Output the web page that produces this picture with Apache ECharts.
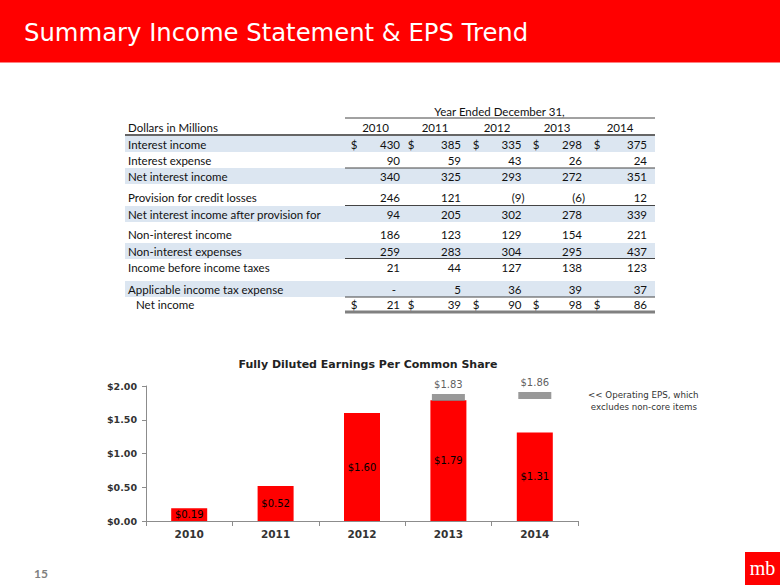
<!DOCTYPE html>
<html><head><meta charset="utf-8">
<script src="https://cdn.jsdelivr.net/npm/echarts@6/dist/echarts.min.js"></script>
<style>html,body{margin:0;padding:0;background:#fff}#c{width:780px;height:585px}</style>
</head><body><div id="c"></div>
<script>
// ---- chart data ----
const years = ['2010', '2011', '2012', '2013', '2014'];
const epsDiluted = [0.19, 0.52, 1.60, 1.79, 1.31];
const epsOperating = [null, null, null, 1.83, 1.86];
const yMin = 0, yMax = 2, yStep = 0.5;

// ---- table data (Dollars in Millions) ----
const rowLabels = ['Interest income', 'Interest expense', 'Net interest income', 'Provision for credit losses',
  'Net interest income after provision for', 'Non-interest income', 'Non-interest expenses',
  'Income before income taxes', 'Applicable income tax expense', 'Net income'];
const interestIncome = [430, 385, 335, 298, 375];
const interestExpense = [90, 59, 43, 26, 24];
const netInterestIncome = [340, 325, 293, 272, 351];
const provisionCredit = [246, 121, -9, -6, 12];
const netAfterProvision = [94, 205, 302, 278, 339];
const nonInterestIncome = [186, 123, 129, 154, 221];
const nonInterestExpenses = [259, 283, 304, 295, 437];
const incomeBeforeTaxes = [21, 44, 127, 138, 123];
const incomeTaxExpense = [0, 5, 36, 39, 37];
const netIncome = [21, 39, 90, 98, 86];
const dollarRows = [0, 9];

const tableValues = [interestIncome, interestExpense, netInterestIncome, provisionCredit, netAfterProvision,
  nonInterestIncome, nonInterestExpenses, incomeBeforeTaxes, incomeTaxExpense, netIncome];

// ---- layout ----
const TF = 'Lato, "Open Sans", sans-serif';
const TFS = 11.5;
const tblLeft = 125, tblRight = 655, numLeft = 345;
const dollarX = [354, 411, 476, 536, 597];
const rightX = [400, 461, 521.5, 582, 647];
const yearX = [375.5, 435, 497, 557, 620];
const rowY = [144, 160.5, 176, 197.5, 214, 234.5, 251, 267, 289, 304.5];
const txtColor = '#111';

const g = [];
// title bar
g.push({type: 'rect', shape: {x: 0, y: 0, width: 780, height: 62}, style: {fill: '#ff0000'}, z: 1});
g.push({type: 'rect', shape: {x: 0, y: 62, width: 780, height: 1}, style: {fill: '#ff8080'}, z: 1});
g.push({type: 'text', x: 24, y: 32, style: {text: 'Summary Income Statement & EPS Trend', fill: '#fff',
  font: '24.3px "DejaVu Sans"', verticalAlign: 'middle'}, z: 2});

// table bands
rowY.forEach((y, i) => {
  if (i % 2 === 0) g.push({type: 'rect', shape: {x: tblLeft, y: y - 8, width: tblRight - tblLeft, height: 16},
    style: {fill: '#dce6f1'}, z: 1});
});
// table lines
const lines = [
  [numLeft, tblRight, 118, 1, '#444'],
  [tblLeft, tblRight, 135, 2, '#666'],
  [numLeft, tblRight, 168, 1, '#444'],
  [numLeft, tblRight, 205.5, 1, '#444'],
  [numLeft, tblRight, 258.5, 1, '#444'],
  [numLeft, tblRight, 297, 1, '#444'],
  [numLeft, tblRight, 312, 3, '#808080']
];
lines.forEach(l => g.push({type: 'line', shape: {x1: l[0], y1: l[2], x2: l[1], y2: l[2]},
  style: {stroke: l[4], lineWidth: l[3]}, z: 3}));

// headers
g.push({type: 'text', x: 499.5, y: 111, style: {text: 'Year Ended December 31,', fill: txtColor,
  font: TFS + 'px ' + TF, align: 'center', verticalAlign: 'middle'}, z: 4});
g.push({type: 'text', x: 128, y: 127, style: {text: 'Dollars in Millions', fill: txtColor,
  font: TFS + 'px ' + TF, verticalAlign: 'middle'}, z: 4});
years.forEach((yr, j) => g.push({type: 'text', x: yearX[j], y: 127, style: {text: yr, fill: txtColor,
  font: TFS + 'px ' + TF, align: 'center', verticalAlign: 'middle'}, z: 4}));

function fmt(v) {
  if (v === 0) return '-';
  if (v < 0) return '(' + (-v) + ')';
  return String(v);
}
rowLabels.forEach((lab, i) => {
  g.push({type: 'text', x: i === 9 ? 136 : 128, y: rowY[i], style: {text: lab, fill: txtColor,
    font: TFS + 'px ' + TF, verticalAlign: 'middle'}, z: 4});
  tableValues[i].forEach((v, j) => {
    const off = v < 0 ? 3 : (v === 0 ? -4 : 0);
    g.push({type: 'text', x: rightX[j] + off, y: rowY[i], style: {text: fmt(v), fill: txtColor,
      font: TFS + 'px ' + TF, align: 'right', verticalAlign: 'middle'}, z: 4});
    if (dollarRows.includes(i)) g.push({type: 'text', x: dollarX[j], y: rowY[i], style: {text: '$', fill: txtColor,
      font: TFS + 'px ' + TF, align: 'center', verticalAlign: 'middle'}, z: 4});
  });
});

// chart title & note
g.push({type: 'text', x: 368, y: 364, style: {text: 'Fully Diluted Earnings Per Common Share', fill: '#222',
  font: 'bold 11px "DejaVu Sans"', align: 'center', verticalAlign: 'middle'}, z: 4});
g.push({type: 'text', x: 588, y: 389, style: {text: '<< Operating EPS, which\n excludes non-core items', fill: '#333',
  font: '8.7px "DejaVu Sans"', lineHeight: 12, verticalAlign: 'top'}, z: 4});

// footer
g.push({type: 'text', x: 34, y: 573, style: {text: '15', fill: '#7f7f7f', font: 'bold 12px ' + TF, verticalAlign: 'middle'}, z: 4});
g.push({type: 'rect', shape: {x: 745, y: 552, width: 35, height: 33}, style: {fill: '#ff0000'}, z: 3});
g.push({type: 'text', x: 762.5, y: 568, style: {text: 'mb', fill: '#fff', font: '20px "Liberation Serif"',
  align: 'center', verticalAlign: 'middle'}, z: 4});

const money = v => '$' + Number(v).toFixed(2);
const opData = epsOperating.map((v, i) => v == null ? null : [i, v]).filter(d => d);

const chart = echarts.init(document.getElementById('c'), null, {renderer: 'svg'});
chart.setOption({
  animation: false,
  backgroundColor: '#fff',
  graphic: g,
  grid: {left: 146, right: 202, top: 386, bottom: 64},
  xAxis: {
    type: 'category', data: years,
    axisLine: {lineStyle: {color: '#8c8c8c', width: 1}},
    axisTick: {show: true, length: 5, lineStyle: {color: '#8c8c8c'}},
    axisLabel: {color: '#333', fontWeight: 'bold', fontSize: 10.5, fontFamily: 'DejaVu Sans', margin: 7}
  },
  yAxis: {
    type: 'value', min: yMin, max: yMax, interval: yStep,
    splitLine: {show: false},
    axisLine: {show: true, lineStyle: {color: '#8c8c8c', width: 1}},
    axisTick: {show: true, length: 4, lineStyle: {color: '#8c8c8c'}},
    axisLabel: {color: '#333', fontWeight: 'bold', fontSize: 9.5, fontFamily: 'DejaVu Sans', margin: 9,
      formatter: v => money(v)}
  },
  series: [
    {
      type: 'bar', data: epsDiluted, barWidth: 36,
      itemStyle: {color: '#ff0000'},
      label: {show: true, position: 'inside', color: '#000', fontSize: 10, fontFamily: 'DejaVu Sans',
        formatter: p => money(p.value)}
    },
    {
      type: 'scatter', data: opData, symbol: 'rect', symbolSize: [33, 7],
      itemStyle: {color: '#808080'},
      label: {show: true, position: 'top', distance: 4, color: '#333', fontSize: 10, fontFamily: 'DejaVu Sans',
        formatter: p => money(p.value[1])}
    }
  ]
});
</script></body></html>
